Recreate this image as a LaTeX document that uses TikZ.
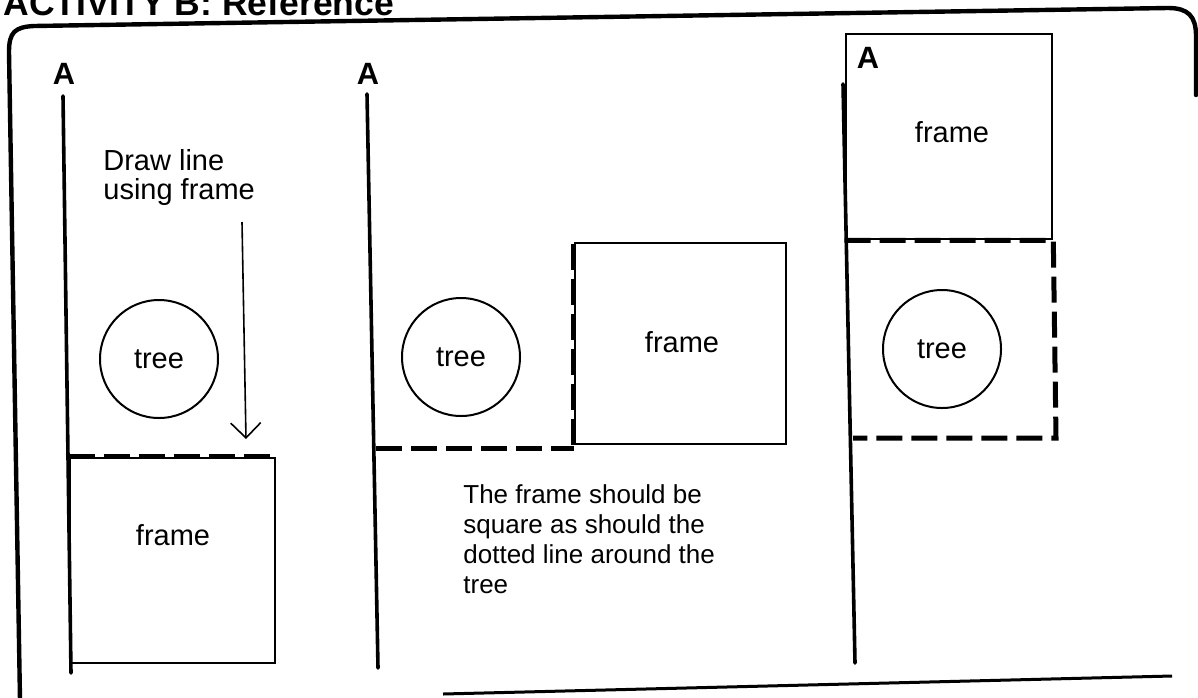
\documentclass[tikz,border=0pt]{standalone}
\usepackage{fontspec}
\setmainfont{Liberation Sans}
\usetikzlibrary{arrows.meta}
\begin{document}
\begin{tikzpicture}[x=0.5pt,y=-0.5pt,
  borderline/.style={line width=2.2pt, line cap=round, line join=round},
  axisline/.style={line width=1.8pt, line cap=round},
  framebox/.style={draw, line width=1.3pt, inner sep=0pt},
  treecircle/.style={draw, circle, line width=1pt, inner sep=0pt, minimum size=59pt, font=\fontsize{14.5pt}{16pt}\selectfont},
  lbl/.style={inner sep=0pt, font=\fontsize{14.5pt}{16pt}\selectfont},
  alabel/.style={inner sep=0pt, font=\bfseries\fontsize{15.4pt}{17pt}\selectfont},
  dashline/.style={line width=2.5pt, dash pattern=on 13pt off 4.5pt},
  pointer/.style={line width=0.8pt, -{Straight Barb[length=7.5pt, width=15pt, line width=0.8pt]}}]
\useasboundingbox (0,0) rectangle (1198,697);
% title (cut off at the top of the page, as in the reference)
\node[anchor=base west, inner sep=0pt, font=\bfseries\fontsize{17.75pt}{20pt}\selectfont] (title) at (3,15) {ACTIVITY B: Reference};
% outer border
\draw[borderline] (20,700) -- (9,52) .. controls (9,32) and (15,27) .. (34,26) -- (1168,8) .. controls (1188,8) and (1196,16) .. (1196,36) -- (1196,95);
\draw[line width=1.5pt] (443,694) -- (1172,676);

% ---------------- panel 1 ----------------
\node[alabel] (a1) at (64,74) {A};
\coordinate (l1t) at (63,96);
\coordinate (l1b) at (71,673);
\draw[axisline] (l1t) -- (l1b);
\node[lbl, anchor=north west, align=left, font=\fontsize{14.5pt}{14.5pt}\selectfont] (draw1) at (103,149) {Draw line\\using frame};
\node[treecircle] (t1) at (159,359) {tree};
\node[framebox, minimum width=102.5pt, minimum height=102.5pt] (f1) at (172.5,560.5) {};
\node[lbl] (fr1) at (173,535) {frame};
\draw[dashline] (f1.north west) -- (f1.north east);
\coordinate (arrS) at (242,222);
\coordinate (arrE) at (246,439);
\draw[pointer] (arrS) -- (arrE);

% ---------------- panel 2 ----------------
\node[alabel] (a2) at (368,74) {A};
\coordinate (l2t) at (367,94);
\coordinate (l2b) at (378,668);
\draw[axisline] (l2t) -- (l2b);
\node[treecircle] (t2) at (461,357) {tree};
\node[framebox, minimum width=105.5pt, minimum height=100.5pt] (f2) at (680.5,343.5) {};
\node[lbl] (fr2) at (682,342) {frame};
\coordinate (d2) at (376,448);
\draw[dashline] (d2) -- (f2.south west |- d2);
\draw[dashline] (f2.south west) -- (f2.north west);
\node[inner sep=0pt, anchor=north west, align=left, font=\fontsize{13pt}{15pt}\selectfont] (note) at (463,484) {The frame should be\\square as should the\\dotted line around the\\tree};

% ---------------- panel 3 ----------------
\node[framebox, minimum width=103pt, minimum height=102.5pt] (f3) at (949,136.5) {};
\node[alabel] (a3) at (868,58) {A};
\coordinate (l3t) at (843,84);
\coordinate (l3b) at (855,663);
\draw[axisline] (l3t) -- (l3b);
\node[lbl] (fr3) at (952,132) {frame};
\node[treecircle] (t3) at (942,349) {tree};
\coordinate (d3r) at (1056,438);
\coordinate (d3l) at (853,438);
\draw[dashline] (f3.south west) -- (f3.south east) -- (d3r) -- (d3l);
\end{tikzpicture}
\end{document}
